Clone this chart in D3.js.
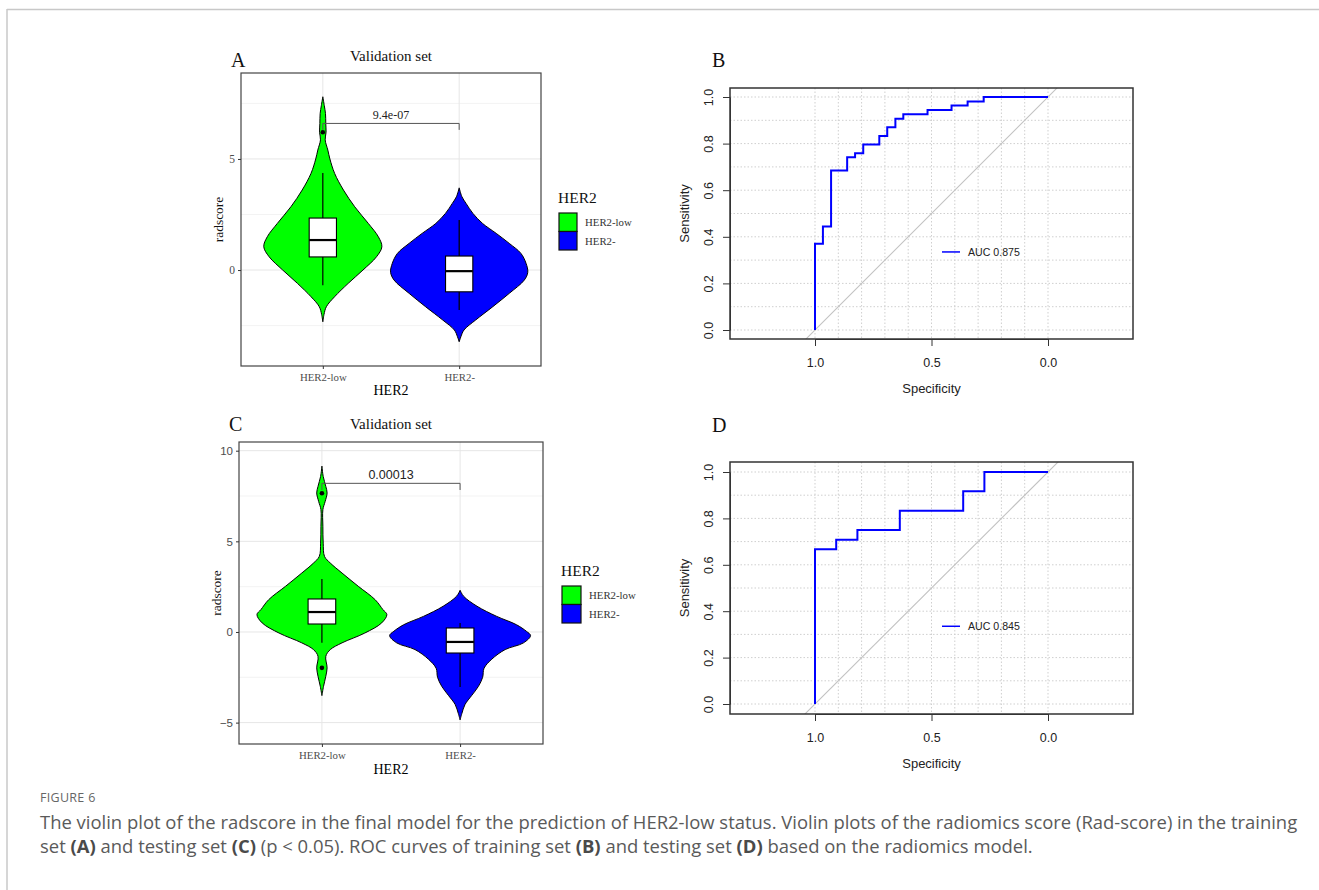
<!DOCTYPE html>
<html><head><meta charset="utf-8">
<script src="https://cdn.jsdelivr.net/npm/d3@7"></script>
<style>body{margin:0;background:#fff}svg{display:block}</style>
</head><body>
<script>
// ---------------- DATA ----------------
const categories = ["HER2-low", "HER2-"];
const groupColors = ["#00FF00", "#0000FF"];

// Panel A (training) violin density profiles: value -> relative width
const violinA_low_v = [7.8, 7.4, 7.05, 6.6, 6.2, 5.86, 5.4, 5.0, 4.35, 3.6, 2.85, 2.1, 1.5, 1.05, 0.6, 0, -0.6, -1.2, -1.65, -2.0, -2.33];
const violinA_low_w = [0, 0.025, 0.045, 0.05, 0.055, 0.04, 0.085, 0.12, 0.2, 0.35, 0.54, 0.77, 0.94, 1.0, 0.91, 0.68, 0.43, 0.2, 0.06, 0.02, 0];
const violinA_neg_v = [3.7, 3.3, 3.0, 2.55, 2.1, 1.65, 1.2, 0.75, 0.3, -0.1, -0.45, -1.05, -1.65, -2.25, -2.7, -3.0, -3.23];
const violinA_neg_w = [0, 0.04, 0.1, 0.2, 0.34, 0.54, 0.73, 0.9, 0.975, 1.0, 0.95, 0.73, 0.49, 0.24, 0.07, 0.025, 0];
const violinA_maxHalf = [0.433, 0.503];           // max half width (category units)
// box stats [whiskerLow, q1, median, q3, whiskerHigh]
const boxA_low = [-0.68, 0.59, 1.35, 2.34, 4.37];
const boxA_neg = [-1.8, -0.98, -0.05, 0.63, 2.25];
const outliersA_low = [6.2];
const outliersA_neg = [];
const pValueA = "9.4e-07";
const bracketA = 6.6;
const yTicksA = [0, 5];

// Panel C (testing)
const violinC_low_v = [9.15, 8.58, 8.03, 7.67, 7.2, 6.75, 5.83, 4.9, 4.17, 3.8, 3.25, 2.52, 1.78, 1.23, 0.96, 0.5, -0.06, -0.6, -0.97, -1.34, -1.98, -2.44, -3.0, -3.51];
const violinC_low_w = [0, 0.02, 0.06, 0.08, 0.05, 0.015, 0.015, 0.02, 0.04, 0.13, 0.31, 0.56, 0.82, 0.94, 1.0, 0.92, 0.66, 0.31, 0.13, 0.06, 0.08, 0.06, 0.025, 0];
const violinC_neg_v = [2.3, 1.97, 1.42, 0.86, 0.4, 0.04, -0.2, -0.6, -0.97, -1.5, -2.0, -2.5, -3.0, -3.5, -4.0, -4.5, -4.85];
const violinC_neg_w = [0, 0.05, 0.24, 0.52, 0.8, 0.94, 1.0, 0.9, 0.64, 0.45, 0.34, 0.32, 0.26, 0.165, 0.07, 0.025, 0];
const violinC_maxHalf = [0.47, 0.51];
const boxC_low = [-0.6, 0.44, 1.1, 1.82, 2.92];
const boxC_neg = [-3.03, -1.16, -0.55, 0.22, 0.5];
const outliersC_low = [7.65, -1.98];
const outliersC_neg = [];
const pValueC = "0.00013";
const bracketC = 8.2;
const yTicksC = [-5, 0, 5, 10];

// ROC curves: [specificity, sensitivity] step vertices
const rocB_spec = [1, 1, 0.966, 0.931, 0.862, 0.828, 0.793, 0.724, 0.690, 0.655, 0.621, 0.517, 0.414, 0.345, 0.276, 0];
const rocB_sens = [0, 0.370, 0.444, 0.685, 0.741, 0.759, 0.796, 0.833, 0.870, 0.907, 0.926, 0.944, 0.963, 0.981, 1.0, 1.0];
const aucB = "AUC 0.875";
const rocD_spec = [1, 1, 0.909, 0.818, 0.636, 0.364, 0.273, 0];
const rocD_sens = [0, 0.667, 0.708, 0.750, 0.833, 0.917, 1.0, 1.0];
const aucD = "AUC 0.845";
const rocYTicks = [0, 0.2, 0.4, 0.6, 0.8, 1.0];
const rocXTicks = [1.0, 0.5, 0.0];

const captionTitle = "FIGURE 6";
const captionLine1 = [["The violin plot of the radscore in the final model for the prediction of HER2-low status. Violin plots of the radiomics score (Rad-score) in the training", false]];
const captionLine2 = [["set ", false], ["(A)", true], [" and testing set ", false], ["(C)", true], [" (p < 0.05). ROC curves of training set ", false], ["(B)", true], [" and testing set ", false], ["(D)", true], [" based on the radiomics model.", false]];

// ---------------- DRAW ----------------
const W = 1319, H = 890;
const svg = d3.select("body").append("svg").attr("width", W).attr("height", H);
svg.append("rect").attr("width", W).attr("height", H).attr("fill", "#fff");
svg.append("line").attr("x1", 7).attr("x2", W).attr("y1", 9.5).attr("y2", 9.5).attr("stroke", "#c8c8c8").attr("stroke-width", 1.5);
svg.append("line").attr("x1", 7).attr("x2", 7).attr("y1", 9).attr("y2", H).attr("stroke", "#c8c8c8").attr("stroke-width", 1.5);

const SERIF = "'Liberation Serif','Times New Roman',serif";
const SANS = "'Liberation Sans',Arial,sans-serif";

function violinPanel(cfg) {
  const g = svg.append("g");
  const x = d3.scalePoint().domain(categories).range([cfg.left, cfg.right]).padding(0.6);
  const step = x.step();
  const y = d3.scaleLinear().domain(cfg.domain).range([cfg.bottom, cfg.top]);

  // grid
  const minor = [];
  for (let i = 0; i < cfg.ticks.length + 1; i++) {
    const a = cfg.ticks[0] + (i - 0.5) * (cfg.ticks[1] - cfg.ticks[0]);
    if (a > cfg.domain[0] && a < cfg.domain[1]) minor.push(a);
  }
  g.selectAll(".mg").data(minor).join("line").attr("x1", cfg.left).attr("x2", cfg.right)
    .attr("y1", d => y(d)).attr("y2", d => y(d)).attr("stroke", "#f0f0f0").attr("stroke-width", 0.8);
  g.selectAll(".Mg").data(cfg.ticks).join("line").attr("x1", cfg.left).attr("x2", cfg.right)
    .attr("y1", d => y(d)).attr("y2", d => y(d)).attr("stroke", "#e6e6e6").attr("stroke-width", 1);
  g.selectAll(".xg").data(categories).join("line").attr("y1", cfg.top).attr("y2", cfg.bottom)
    .attr("x1", d => x(d)).attr("x2", d => x(d)).attr("stroke", "#e6e6e6").attr("stroke-width", 1);

  // violins
  cfg.groups.forEach((gr, i) => {
    const cx = x(categories[i]);
    const pts = gr.v.map((v, k) => ({ v, w: gr.w[k] * cfg.maxHalf[i] * step }));
    const area = d3.area().y(d => y(d.v)).x0(d => cx - d.w).x1(d => cx + d.w).curve(d3.curveCatmullRom.alpha(0.5));
    g.append("path").attr("d", area(pts)).attr("fill", groupColors[i]).attr("stroke", "#000").attr("stroke-width", 1);
  });
  // boxes
  cfg.groups.forEach((gr, i) => {
    const cx = x(categories[i]);
    const bw = 0.2 * step;
    const b = gr.box;
    g.append("line").attr("x1", cx).attr("x2", cx).attr("y1", y(b[0])).attr("y2", y(b[4])).attr("stroke", "#000").attr("stroke-width", 1.2);
    g.append("rect").attr("x", cx - bw / 2).attr("width", bw).attr("y", y(b[3])).attr("height", y(b[1]) - y(b[3]))
      .attr("fill", "#fff").attr("stroke", "#000").attr("stroke-width", 1.1);
    g.append("line").attr("x1", cx - bw / 2).attr("x2", cx + bw / 2).attr("y1", y(b[2])).attr("y2", y(b[2])).attr("stroke", "#000").attr("stroke-width", 2.2);
    g.selectAll(null).data(gr.out).join("circle").attr("cx", cx).attr("cy", d => y(d)).attr("r", 2.3).attr("fill", "#000");
  });
  // bracket
  const tip = 0.022 * (cfg.domain[1] - cfg.domain[0]);
  const x1 = x(categories[0]), x2 = x(categories[1]);
  g.append("path").attr("d", `M${x1},${y(cfg.bracket - tip)}V${y(cfg.bracket)}H${x2}V${y(cfg.bracket - tip)}`)
    .attr("fill", "none").attr("stroke", "#555").attr("stroke-width", 1);
  g.append("text").attr("x", (x1 + x2) / 2).attr("y", y(cfg.bracket) - 4).attr("text-anchor", "middle")
    .attr("font-family", cfg.pFont).attr("font-size", cfg.pSize).attr("fill", "#222").text(cfg.p);

  // border
  g.append("rect").attr("x", cfg.left).attr("y", cfg.top).attr("width", cfg.right - cfg.left).attr("height", cfg.bottom - cfg.top)
    .attr("fill", "none").attr("stroke", "#444").attr("stroke-width", 1.2);

  // axes
  const ya = g.append("g").attr("transform", `translate(${cfg.left},0)`)
    .call(d3.axisLeft(y).tickValues(cfg.ticks).tickSize(3).tickPadding(3).tickFormat(d3.format("d")));
  ya.select(".domain").remove();
  ya.selectAll("line").attr("stroke", "#333");
  ya.selectAll("text").attr("font-family", cfg.tickFont).attr("font-size", 11.5).attr("fill", "#4d4d4d");
  const xa = g.append("g").attr("transform", `translate(0,${cfg.bottom})`).call(d3.axisBottom(x).tickSize(3).tickPadding(3));
  xa.select(".domain").remove();
  xa.selectAll("line").attr("stroke", "#333");
  xa.selectAll("text").attr("font-family", SERIF).attr("font-size", 10.8).attr("fill", "#4d4d4d").attr("dy", "0.8em");

  // titles
  g.append("text").attr("x", (cfg.left + cfg.right) / 2).attr("y", cfg.titleY).attr("text-anchor", "middle")
    .attr("font-family", SERIF).attr("font-size", 15).attr("fill", "#111").text("Validation set");
  g.append("text").attr("x", cfg.left - 10).attr("y", cfg.letterY).attr("font-family", SERIF).attr("font-size", 20).attr("fill", "#111").text(cfg.letter);
  g.append("text").attr("transform", `translate(${cfg.left - 18},${(cfg.top + cfg.bottom) / 2}) rotate(-90)`).attr("text-anchor", "middle")
    .attr("font-family", SERIF).attr("font-size", 13.5).attr("fill", "#111").text("radscore");
  g.append("text").attr("x", (cfg.left + cfg.right) / 2).attr("y", cfg.xTitleY).attr("text-anchor", "middle")
    .attr("font-family", SERIF).attr("font-size", 14).attr("fill", "#000").text("HER2");

  // legend
  const L = cfg.legend;
  g.append("text").attr("x", L.x).attr("y", L.titleY).attr("font-family", SERIF).attr("font-size", 15.5).attr("fill", "#111").text("HER2");
  categories.forEach((c, i) => {
    g.append("rect").attr("x", L.x + 1).attr("y", L.keyY + i * L.keyH).attr("width", L.keyW).attr("height", L.keyH)
      .attr("fill", groupColors[i]).attr("stroke", "#111").attr("stroke-width", 1.2);
    g.append("text").attr("x", L.x + L.keyW + 9).attr("y", L.keyY + i * L.keyH + L.keyH / 2 + 4)
      .attr("font-family", SERIF).attr("font-size", 10.8).attr("fill", "#333").text(c);
  });
}

violinPanel({
  left: 241, right: 541, top: 73, bottom: 366, domain: [-4.32, 8.87], ticks: yTicksA, tickFont: SERIF,
  groups: [
    { v: violinA_low_v, w: violinA_low_w, box: boxA_low, out: outliersA_low },
    { v: violinA_neg_v, w: violinA_neg_w, box: boxA_neg, out: outliersA_neg }],
  maxHalf: violinA_maxHalf, bracket: bracketA, p: pValueA, pFont: SERIF, pSize: 12,
  titleY: 61, letter: "A", letterY: 67, xTitleY: 395,
  legend: { x: 558, titleY: 203, keyY: 213, keyW: 18, keyH: 18.5 }
});
violinPanel({
  left: 239, right: 543, top: 442, bottom: 744, domain: [-6.18, 10.48], ticks: yTicksC, tickFont: SANS,
  groups: [
    { v: violinC_low_v, w: violinC_low_w, box: boxC_low, out: outliersC_low },
    { v: violinC_neg_v, w: violinC_neg_w, box: boxC_neg, out: outliersC_neg }],
  maxHalf: violinC_maxHalf, bracket: bracketC, p: pValueC, pFont: SANS, pSize: 12.5,
  titleY: 429, letter: "C", letterY: 431, xTitleY: 774,
  legend: { x: 561, titleY: 576, keyY: 586, keyW: 19, keyH: 18.5 }
});

function rocPanel(cfg) {
  const g = svg.append("g");
  const x = d3.scaleLinear().domain([1, 0]).range([815, 1048]);
  const y = d3.scaleLinear().domain([0, 1]).range(cfg.y0y1);
  const id = "clip" + cfg.letter;
  svg.append("clipPath").attr("id", id).append("rect").attr("x", cfg.left).attr("y", cfg.top)
    .attr("width", cfg.right - cfg.left).attr("height", cfg.bottom - cfg.top);
  const grid = d3.range(0, 11).map(d => d / 10);
  g.selectAll(".hg").data(grid).join("line").attr("x1", cfg.left).attr("x2", cfg.right)
    .attr("y1", d => y(d)).attr("y2", d => y(d)).attr("stroke", "#cfcfcf").attr("stroke-dasharray", "1.5,2").attr("stroke-width", 1);
  g.selectAll(".vg").data(grid).join("line").attr("y1", cfg.top).attr("y2", cfg.bottom)
    .attr("x1", d => x(d)).attr("x2", d => x(d)).attr("stroke", "#cfcfcf").attr("stroke-dasharray", "1.5,2").attr("stroke-width", 1);
  // diagonal
  g.append("line").attr("clip-path", `url(#${id})`).attr("x1", x(1.2)).attr("y1", y(-0.2)).attr("x2", x(-0.2)).attr("y2", y(1.2))
    .attr("stroke", "#c2c2c2").attr("stroke-width", 1.1);
  // curve
  const pts = cfg.spec.map((s, i) => [s, cfg.sens[i]]);
  const line = d3.line().x(d => x(d[0])).y(d => y(d[1])).curve(d3.curveStepAfter);
  g.append("path").attr("d", line(pts)).attr("fill", "none").attr("stroke", "#0000FF").attr("stroke-width", 2);
  // box
  g.append("rect").attr("x", cfg.left).attr("y", cfg.top).attr("width", cfg.right - cfg.left).attr("height", cfg.bottom - cfg.top)
    .attr("fill", "none").attr("stroke", "#333").attr("stroke-width", 1.5);
  // axes
  const ya = g.append("g").attr("transform", `translate(${cfg.left},0)`)
    .call(d3.axisLeft(y).tickValues(rocYTicks).tickSize(7).tickSizeOuter(0).tickFormat(d3.format(".1f")));
  ya.select(".domain").attr("stroke", "#333");
  ya.selectAll(".tick line").attr("stroke", "#333");
  ya.selectAll("text").attr("font-family", SANS).attr("font-size", 12.5).attr("fill", "#222")
    .attr("x", 0).attr("y", -17).attr("dy", 0).attr("text-anchor", "middle").attr("transform", "rotate(-90)");
  const xa = g.append("g").attr("transform", `translate(0,${cfg.bottom})`)
    .call(d3.axisBottom(x).tickValues(rocXTicks).tickSize(7).tickSizeOuter(0).tickFormat(d3.format(".1f")));
  xa.select(".domain").attr("stroke", "#333");
  xa.selectAll(".tick line").attr("stroke", "#333");
  xa.selectAll("text").attr("font-family", SANS).attr("font-size", 12.5).attr("fill", "#222").attr("y", 19);
  g.append("text").attr("x", x(0.5)).attr("y", cfg.bottom + 54).attr("text-anchor", "middle")
    .attr("font-family", SANS).attr("font-size", 13).attr("fill", "#222").text("Specificity");
  g.append("text").attr("transform", `translate(689,${(y(0) + y(1)) / 2}) rotate(-90)`).attr("text-anchor", "middle")
    .attr("font-family", SANS).attr("font-size", 13).attr("fill", "#222").text("Sensitivity");
  g.append("text").attr("x", 712).attr("y", cfg.letterY).attr("font-family", SERIF).attr("font-size", 20).attr("fill", "#111").text(cfg.letter);
  // legend
  const ly = y(cfg.legendSens);
  g.append("line").attr("x1", 942).attr("x2", 960).attr("y1", ly).attr("y2", ly).attr("stroke", "#0000FF").attr("stroke-width", 1.5);
  g.append("text").attr("x", 968).attr("y", ly + 4).attr("font-family", SANS).attr("font-size", 10.6).attr("fill", "#222").text(cfg.auc);
}

rocPanel({ letter: "B", left: 730, right: 1133, top: 88, bottom: 339, y0y1: [330, 97], spec: rocB_spec, sens: rocB_sens, auc: aucB, letterY: 67, legendSens: 0.335 });
rocPanel({ letter: "D", left: 730, right: 1133, top: 462, bottom: 714, y0y1: [704, 472], spec: rocD_spec, sens: rocD_sens, auc: aucD, letterY: 432, legendSens: 0.335 });

// caption
const CAP = "'Open Sans','Noto Sans',sans-serif";
svg.append("text").attr("x", 40).attr("y", 802).attr("font-family", CAP).attr("font-size", 12.5).attr("fill", "#666")
  .attr("letter-spacing", 0.3).text(captionTitle);
function capLine(parts, yy, target) {
  const t = svg.append("text").attr("x", 40).attr("y", yy).attr("font-family", CAP).attr("font-size", 15.5).attr("fill", "#5a5a5a");
  parts.forEach(p => t.append("tspan").attr("font-weight", p[1] ? 700 : 400).attr("fill", p[1] ? "#4a4a4a" : "#5a5a5a").text(p[0]));
  if (target) {
    const w = t.node().getComputedTextLength();
    t.attr("font-size", 15.5 * target / w);
  }
  return t;
}
const l1 = capLine(captionLine1, 829, 1258);
const fs = +l1.attr("font-size");
const l2 = capLine(captionLine2, 853, null);
l2.attr("font-size", fs);
</script>
</body></html>
